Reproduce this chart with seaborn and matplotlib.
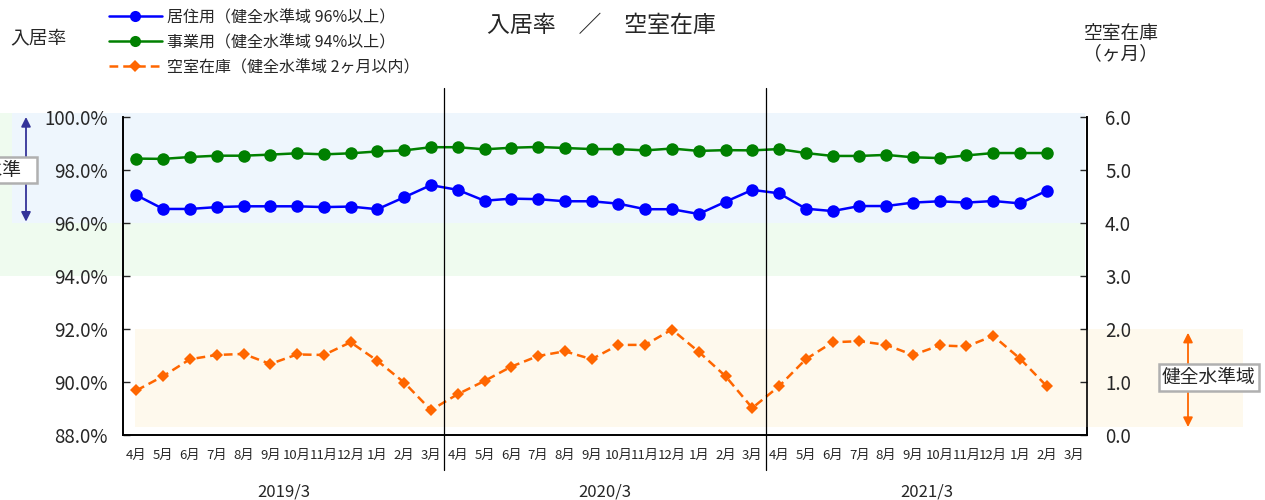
import numpy as np
import pandas as pd
import matplotlib
matplotlib.use('Agg')
import matplotlib.pyplot as plt
from matplotlib.lines import Line2D
import seaborn as sns

# データ（2018/4 ～ 2021/3、最後の3月は未計上）
months = ['4月', '5月', '6月', '7月', '8月', '9月', '10月', '11月', '12月', '1月', '2月', '3月'] * 3
years = ['2019/3', '2020/3', '2021/3']

residential = [97.05, 96.53, 96.53, 96.60, 96.63, 96.63, 96.63, 96.60, 96.62, 96.52, 96.97, 97.43,
               97.25, 96.84, 96.92, 96.90, 96.82, 96.82, 96.73, 96.52, 96.52, 96.34, 96.80, 97.25,
               97.12, 96.54, 96.45, 96.64, 96.64, 96.77, 96.82, 96.77, 96.83, 96.74, 97.22]
office = [98.43, 98.42, 98.49, 98.54, 98.54, 98.58, 98.63, 98.59, 98.63, 98.70, 98.74, 98.86,
          98.86, 98.78, 98.84, 98.87, 98.83, 98.79, 98.79, 98.74, 98.81, 98.72, 98.75, 98.74,
          98.79, 98.64, 98.53, 98.53, 98.57, 98.48, 98.45, 98.55, 98.64, 98.64, 98.64]
vacancy = [0.84, 1.11, 1.43, 1.51, 1.53, 1.34, 1.52, 1.51, 1.75, 1.40, 0.99, 0.47,
           0.77, 1.02, 1.29, 1.49, 1.58, 1.43, 1.70, 1.70, 1.99, 1.57, 1.11, 0.51,
           0.92, 1.43, 1.75, 1.77, 1.70, 1.51, 1.69, 1.67, 1.87, 1.44, 0.92]

labels = ['居住用（健全水準域 96%以上）', '事業用（健全水準域 94%以上）', '空室在庫（健全水準域 2ヶ月以内）']
colors = ['#0000ff', '#008000', '#ff6600']

df = pd.DataFrame({'idx': range(len(residential)),
                   'residential': residential, 'office': office, 'vacancy': vacancy})

sns.set_style('ticks')
plt.rcParams['font.family'] = ['Noto Sans CJK JP', 'DejaVu Sans']

fig = plt.figure(figsize=(12.65, 5), dpi=100)
ax = fig.add_axes([123 / 1265, 65 / 500, 964 / 1265, 318 / 500])
ax.set_facecolor('none')
ax2 = ax.twinx()

W = 964.0
# 背景の健全水準域
ax.axhspan(94, 100.15, xmin=-123 / W, xmax=962 / W, color='#effbef', lw=0, clip_on=False, zorder=0)
ax.axhspan(96, 100.15, xmin=-111 / W, xmax=962 / W, color='#eef6fd', lw=0, clip_on=False, zorder=0)
ax2.axhspan(0.15, 2.0, xmin=12 / W, xmax=1120 / W, color='#fef9ed', lw=0, clip_on=False, zorder=0)

sns.lineplot(data=df, x='idx', y='residential', ax=ax, color=colors[0], marker='o',
             markersize=9, markeredgewidth=0, linewidth=1.8, legend=False, zorder=3)
sns.lineplot(data=df, x='idx', y='office', ax=ax, color=colors[1], marker='o',
             markersize=9, markeredgewidth=0, linewidth=1.8, legend=False, zorder=3)
sns.lineplot(data=df, x='idx', y='vacancy', ax=ax2, color=colors[2], marker='D',
             markersize=6.5, markeredgewidth=0, linewidth=1.8, linestyle=(0, (3.5, 2)),
             legend=False, zorder=3)

# 年度区切り線
for xv in [11.5, 23.5]:
    ax2.axvline(xv, ymin=-35 / 318, ymax=347 / 318, color='black', lw=0.9, clip_on=False, zorder=5)

ax.set_xlim(-0.5, 35.5)
ax.set_ylim(88, 100)
ax2.set_ylim(0, 6)
ax.set_xticks(range(36))
ax.set_xticklabels(months, fontsize=9.5)
ax.set_yticks(np.arange(88, 100.1, 2))
ax.set_yticklabels([f'{v:.1f}%' for v in np.arange(88, 100.1, 2)], fontsize=13.5)
ax2.set_yticks(np.arange(0, 6.1, 1))
ax2.set_yticklabels([f'{v:.1f}' for v in np.arange(0, 6.1, 1)], fontsize=13.5)
ax.tick_params(axis='x', length=0, pad=10)
ax.tick_params(axis='y', direction='in', length=5, width=1, pad=11)
ax2.tick_params(axis='y', direction='in', length=5, width=1, pad=13)
ax.set_xlabel('')
ax.set_ylabel('')
ax2.set_ylabel('')
for a in (ax, ax2):
    a.spines['top'].set_visible(False)
    for s in ['left', 'right', 'bottom']:
        a.spines[s].set_linewidth(1.2)
        a.spines[s].set_color('black')

xt = ax.get_xaxis_transform()
for i, y in enumerate(years):
    ax.text(5.5 + 12 * i, -0.18, y, transform=xt, ha='center', va='center', fontsize=12)

# 健全水準の矢印と注記
yt = ax.get_yaxis_transform()
ax.annotate('', xy=(-97 / W, 96.05), xytext=(-97 / W, 100.0), xycoords=yt, textcoords=yt,
            arrowprops=dict(arrowstyle='<|-|>', color='#333399', lw=1.3, mutation_scale=14,
                            shrinkA=0, shrinkB=0), annotation_clip=False)
ax.text(-89 / W, 98, '健全水準   ', transform=yt, ha='right', va='center', fontsize=13.5,
        bbox=dict(boxstyle='square,pad=0.15', facecolor='white', edgecolor='#b0b0b0', lw=1.8))

yt2 = ax2.get_yaxis_transform()
ax2.annotate('', xy=(1065 / W, 0.15), xytext=(1065 / W, 1.93), xycoords=yt2, textcoords=yt2,
             arrowprops=dict(arrowstyle='<|-|>', color='#ff6600', lw=1.3, mutation_scale=14,
                             shrinkA=0, shrinkB=0), annotation_clip=False)
ax2.text(1039 / W, 1.09, '健全水準域', transform=yt2, ha='left', va='center', fontsize=13.5,
         bbox=dict(boxstyle='square,pad=0.15', facecolor='white', edgecolor='#b0b0b0', lw=1.8))

# タイトル類
fig.text(601 / 1265, 1 - 25 / 500, '入居率　／　空室在庫', ha='center', va='center', fontsize=16.5)
fig.text(10 / 1265, 1 - 38 / 500, '入居率', ha='left', va='center', fontsize=13.5)
fig.text(1121 / 1265, 1 - 44 / 500, '空室在庫\n（ヶ月）', ha='center', va='center',
         fontsize=13.5, linespacing=0.95)

handles = [Line2D([], [], color=colors[0], marker='o', markersize=8, markeredgewidth=0, lw=1.8),
           Line2D([], [], color=colors[1], marker='o', markersize=8, markeredgewidth=0, lw=1.8),
           Line2D([], [], color=colors[2], marker='D', markersize=6, markeredgewidth=0, lw=1.8,
                  linestyle=(0, (3.5, 2)))]
fig.legend(handles, labels, loc='upper left', bbox_to_anchor=(109 / 1265, 1 - 9 / 500),
           bbox_transform=fig.transFigure, frameon=False, fontsize=11.5, borderpad=0,
           borderaxespad=0, handlelength=3.3, handletextpad=0.35, labelspacing=0.5)

fig.savefig('out.png', dpi=100, facecolor='white')
